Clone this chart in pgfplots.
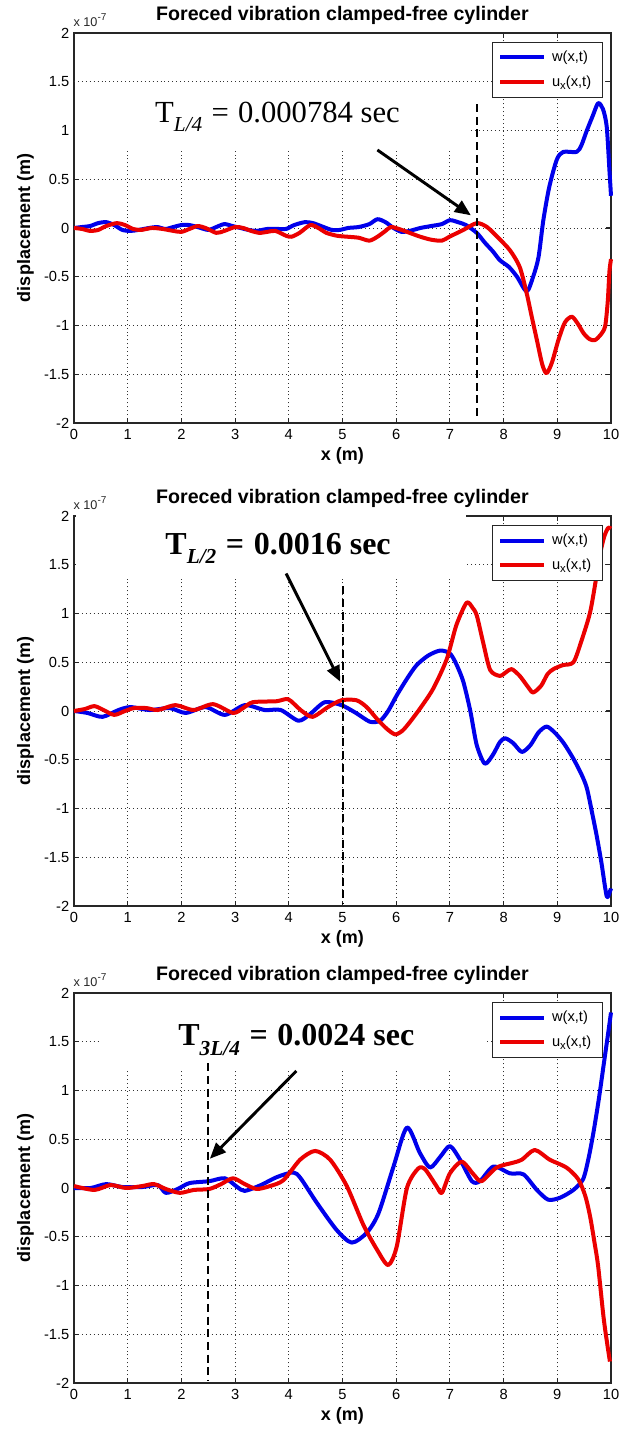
\documentclass[border=0pt]{standalone}
\usepackage{fontspec}
\setmainfont{Liberation Sans}
\newfontfamily\eqfont{Liberation Serif}
\usepackage{pgfplots}
\pgfplotsset{compat=1.18}
\usetikzlibrary{arrows.meta}
\definecolor{mblue}{RGB}{0,0,235}
\definecolor{mred}{RGB}{235,0,0}
\pgfplotsset{myax/.style={
  width=402.75pt, height=292.5pt, scale only axis, clip=false,
  xmin=0, xmax=10, ymin=-2, ymax=2,
  xtick={0,1,2,3,4,5,6,7,8,9,10}, xticklabels={0,1,2,3,4,5,6,7,8,9,10},
  ytick={-2,-1.5,-1,-0.5,0,0.5,1,1.5,2}, yticklabels={-2,-1.5,-1,-0.5,0,0.5,1,1.5,2},
  tick align=inside, major tick length=4pt,
  grid=major, grid style={black!80, line width=0.65pt, dash pattern=on 0.75pt off 2.2pt},
  axis line style={black!85, line width=0.8pt},
  tick style={black!85, line width=0.8pt},
  ticklabel style={font=\fontsize{11}{13}\selectfont},
  xticklabel style={yshift=-1.5pt},
  title={Foreced vibration clamped-free cylinder},
  title style={font=\bfseries\fontsize{14.7}{17}\selectfont, at={(0.5,1)}, anchor=base, yshift=3pt},
  xlabel={x (m)}, ylabel={displacement (m)},
  xlabel style={font=\bfseries\fontsize{13.5}{15}\selectfont, at={(0.5,0)}, anchor=base, yshift=-28pt},
  ylabel style={font=\bfseries\fontsize{13.5}{15}\selectfont, at={(-0.0905,0.5)}, anchor=center},
  legend style={at={(1,1)}, anchor=north east, xshift=-6pt, yshift=-6.75pt,
     font=\fontsize{11}{13}\selectfont, draw=black!85, line width=0.8pt, cells={anchor=west},
     row sep=5pt, inner ysep=4.5pt, inner xsep=4pt, nodes={inner xsep=4.5pt}},
  legend image code/.code={\draw[#1, line width=3pt] (0pt,0pt) -- (33pt,0pt);},
  every axis plot/.append style={line width=3pt, line join=round, smooth, tension=0.45},
}}
\newcommand{\xten}{\node[anchor=base west, inner sep=0pt, font=\fontsize{9.5}{10}\selectfont, text=black!85] at (rel axis cs:0,1) [yshift=4.5pt,xshift=-0.5pt] {x 10\raisebox{0.9ex}{\fontsize{7.5}{8}\selectfont -7}};}
\newcommand{\uxlab}{u\raisebox{-0.35ex}{\fontsize{8.5}{9}\selectfont x}(x,t)}
\newcommand{\sub}[1]{\raisebox{-0.3em}{\fontsize{16}{18}\selectfont\itshape #1}}
\newcommand{\eq}{\hspace{0.3em}=\hspace{0.3em}}
\begin{document}
\begin{tikzpicture}
% ---------------- panel 1 ----------------
\begin{axis}[myax, at={(55.5pt,756pt)}, anchor=south west]
\fill[white] (axis cs:0.02,0.8) rectangle (axis cs:7.35,1.985);
\draw[black!80, line width=0.65pt, dash pattern=on 0.75pt off 2.2pt] (axis cs:0,1.5) -- (axis cs:7.35,1.5);
\addplot[mblue] coordinates {
(0,0) (0.15,0.01) (0.3,0.02) (0.45,0.05) (0.6,0.06) (0.75,0.03) (0.9,-0.02) (1.05,-0.03) (1.2,-0.02) (1.4,0.0)
(1.55,0.01) (1.7,-0.01) (1.85,0.01) (2.0,0.03) (2.15,0.03) (2.3,0.01) (2.5,-0.02) (2.65,0.01) (2.8,0.04) (2.95,0.02)
(3.1,0.0) (3.25,-0.02) (3.4,-0.03) (3.6,-0.01) (3.8,-0.01) (3.95,-0.01) (4.1,0.03) (4.3,0.06) (4.45,0.05) (4.6,0.02)
(4.8,-0.02) (4.95,-0.02) (5.1,0.0) (5.3,0.01) (5.5,0.04) (5.65,0.09) (5.8,0.06) (5.95,0.0) (6.1,-0.04) (6.25,-0.03)
(6.45,0.0) (6.65,0.02) (6.85,0.04) (7.0,0.08) (7.15,0.06) (7.3,0.03) (7.5,-0.05) (7.65,-0.15) (7.8,-0.24) (7.93,-0.33)
(8.1,-0.4) (8.25,-0.5) (8.43,-0.65) (8.55,-0.5) (8.65,-0.3) (8.74,0.08) (8.85,0.42) (8.99,0.7) (9.11,0.78) (9.36,0.78)
(9.45,0.85) (9.55,1.0) (9.66,1.15) (9.76,1.28) (9.85,1.22) (9.92,1.04) (9.97,0.6) (10,0.33)
};
\addlegendentry{w(x,t)}
\addplot[mred] coordinates {
(0,0) (0.15,-0.01) (0.3,-0.03) (0.45,-0.02) (0.6,0.02) (0.8,0.05) (0.95,0.03) (1.1,-0.01) (1.25,-0.02) (1.45,0.0)
(1.65,-0.01) (1.85,-0.03) (2.0,-0.04) (2.15,-0.01) (2.3,0.02) (2.45,0.0) (2.65,-0.05) (2.8,-0.03) (3.0,0.01) (3.15,0.0)
(3.3,-0.03) (3.45,-0.05) (3.6,-0.04) (3.75,-0.03) (3.95,-0.08) (4.05,-0.09) (4.2,-0.05) (4.4,0.03) (4.55,0.0) (4.7,-0.05)
(4.9,-0.08) (5.1,-0.09) (5.3,-0.1) (5.5,-0.13) (5.65,-0.09) (5.8,-0.03) (5.9,0.01) (6.05,-0.01) (6.25,-0.05) (6.45,-0.09)
(6.65,-0.12) (6.85,-0.13) (6.99,-0.09) (7.25,-0.02) (7.5,0.05) (7.69,0.01) (7.9,-0.1) (8.12,-0.23) (8.3,-0.4) (8.43,-0.67)
(8.52,-0.9) (8.62,-1.15) (8.72,-1.4) (8.8,-1.49) (8.9,-1.38) (9.02,-1.15) (9.14,-0.97) (9.27,-0.91) (9.38,-0.98) (9.49,-1.08)
(9.6,-1.14) (9.7,-1.15) (9.8,-1.1) (9.89,-1.01) (9.94,-0.75) (9.97,-0.45) (10,-0.32)
};
\addlegendentry{\uxlab}
\draw[dash pattern=on 6pt off 3.5pt, line width=1.5pt] (axis cs:7.5,1.27) -- (axis cs:7.5,-1.97);
\draw[line width=2.2pt, -{Triangle[length=12pt,width=10pt]}] (axis cs:5.65,0.8) -- (axis cs:7.39,0.13);
\node[anchor=base, font=\eqfont\fontsize{23}{26}\selectfont] at (axis cs:3.79,1.08) {T\sub{L/4}\eq 0.000784 sec};
\xten
\end{axis}
% ---------------- panel 2 ----------------
\begin{axis}[myax, at={(55.5pt,393.75pt)}, anchor=south west]
\fill[white] (axis cs:0.03,1.35) rectangle (axis cs:7.3,2.05);
\addplot[mblue] coordinates {
(0,0) (0.25,-0.02) (0.53,-0.06) (0.83,0.01) (1.05,0.04) (1.41,0.01) (1.78,0.03) (2.08,-0.02) (2.45,0.04) (2.81,-0.04)
(3.18,0.06) (3.55,0.01) (3.85,0.01) (4.18,-0.1) (4.4,-0.03) (4.67,0.09) (4.98,0.06) (5.25,-0.02) (5.51,-0.11) (5.7,-0.1)
(5.85,0.0) (6.01,0.16) (6.2,0.33) (6.38,0.47) (6.6,0.57) (6.82,0.62) (7.0,0.59) (7.12,0.48) (7.25,0.3) (7.38,0.0)
(7.5,-0.35) (7.65,-0.54) (7.8,-0.45) (7.93,-0.32) (8.03,-0.28) (8.18,-0.33) (8.34,-0.42) (8.5,-0.35) (8.65,-0.22) (8.8,-0.16)
(8.95,-0.22) (9.12,-0.33) (9.3,-0.49) (9.45,-0.65) (9.55,-0.79) (9.65,-1.05) (9.73,-1.27) (9.82,-1.55) (9.92,-1.9) (9.98,-1.85) (10,-1.82)
};
\addlegendentry{w(x,t)}
\addplot[mred] coordinates {
(0,0) (0.2,0.02) (0.38,0.05) (0.55,0.01) (0.75,-0.04) (0.95,0.0) (1.12,0.03) (1.35,0.03) (1.56,0.01) (1.89,0.06)
(2.23,0.01) (2.59,0.07) (2.96,-0.02) (3.15,0.03) (3.33,0.09) (3.77,0.1) (3.99,0.12) (4.22,0.01) (4.44,-0.06) (4.73,0.04)
(4.98,0.11) (5.26,0.11) (5.45,0.04) (5.64,-0.08) (5.82,-0.18) (5.98,-0.24) (6.12,-0.2) (6.26,-0.11) (6.45,0.03) (6.69,0.23)
(6.94,0.53) (7.12,0.88) (7.31,1.11) (7.42,1.06) (7.5,0.98) (7.62,0.7) (7.75,0.42) (7.93,0.36) (8.05,0.4) (8.15,0.43)
(8.3,0.36) (8.45,0.25) (8.55,0.19) (8.7,0.26) (8.82,0.38) (8.93,0.43) (9.1,0.47) (9.3,0.5) (9.45,0.72) (9.61,1.01)
(9.72,1.35) (9.8,1.62) (9.88,1.8) (9.95,1.88) (10,1.87)
};
\addlegendentry{\uxlab}
\draw[dash pattern=on 6pt off 3.5pt, line width=1.5pt] (axis cs:5,1.28) -- (axis cs:5,-1.97);
\draw[line width=2.2pt, -{Triangle[length=12pt,width=10pt]}] (axis cs:3.95,1.41) -- (axis cs:4.96,0.3);
\node[anchor=base, font=\eqfont\bfseries\fontsize{24}{27}\selectfont] at (axis cs:3.8,1.61) {T\sub{L/2}\eq 0.0016 sec};
\xten
\end{axis}
% ---------------- panel 3 ----------------
\begin{axis}[myax, at={(55.5pt,36pt)}, anchor=south west]
\fill[white] (axis cs:0.5,1.2) rectangle (axis cs:7.65,1.985);
\addplot[mblue] coordinates {
(0,0) (0.31,0.0) (0.6,0.04) (0.9,0.01) (1.27,0.01) (1.56,0.03) (1.71,-0.05) (1.93,-0.01) (2.15,0.05) (2.52,0.07)
(2.81,0.1) (3.04,0.01) (3.18,-0.03) (3.48,0.03) (3.77,0.11) (4.08,0.16) (4.22,0.1) (4.52,-0.15) (4.89,-0.43) (5.17,-0.56)
(5.45,-0.46) (5.67,-0.26) (5.95,0.22) (6.2,0.62) (6.44,0.36) (6.63,0.21) (6.82,0.32) (7.0,0.43) (7.19,0.29) (7.41,0.07)
(7.56,0.07) (7.81,0.22) (8.12,0.15) (8.37,0.14) (8.62,-0.02) (8.83,-0.12) (9.05,-0.1) (9.3,-0.02) (9.48,0.09) (9.58,0.3)
(9.67,0.56) (9.77,0.9) (9.86,1.25) (9.93,1.52) (10,1.8)
};
\addlegendentry{w(x,t)}
\addplot[mred] coordinates {
(0,0.02) (0.38,-0.02) (0.68,0.03) (0.97,0.0) (1.27,0.02) (1.49,0.04) (1.71,-0.01) (1.97,-0.05) (2.23,-0.02) (2.52,-0.01)
(2.74,0.04) (2.96,0.1) (3.18,0.04) (3.4,-0.01) (3.65,0.02) (3.9,0.08) (4.21,0.29) (4.49,0.38) (4.77,0.29) (5.08,0.02)
(5.39,-0.38) (5.64,-0.63) (5.85,-0.79) (6.01,-0.6) (6.2,0.0) (6.41,0.2) (6.54,0.19) (6.75,0.02) (6.85,-0.05) (7.0,0.15)
(7.22,0.27) (7.44,0.14) (7.59,0.07) (7.87,0.21) (8.18,0.26) (8.34,0.29) (8.58,0.39) (8.86,0.29) (9.17,0.21) (9.39,0.09)
(9.52,-0.08) (9.61,-0.29) (9.69,-0.55) (9.76,-0.8) (9.86,-1.32) (9.93,-1.6) (9.98,-1.78)
};
\addlegendentry{\uxlab}
\draw[dash pattern=on 6pt off 3.5pt, line width=1.5pt] (axis cs:2.5,1.28) -- (axis cs:2.5,-1.97);
\draw[line width=2.2pt, -{Triangle[length=12pt,width=10pt]}] (axis cs:4.14,1.2) -- (axis cs:2.53,0.3);
\node[anchor=base, font=\eqfont\bfseries\fontsize{24}{27}\selectfont] at (axis cs:4.14,1.46) {T\sub{3L/4}\eq 0.0024 sec};
\xten
\end{axis}
\pgfresetboundingbox
\path[use as bounding box] (0,0) rectangle (465pt,1073.25pt);
\end{tikzpicture}
\end{document}
